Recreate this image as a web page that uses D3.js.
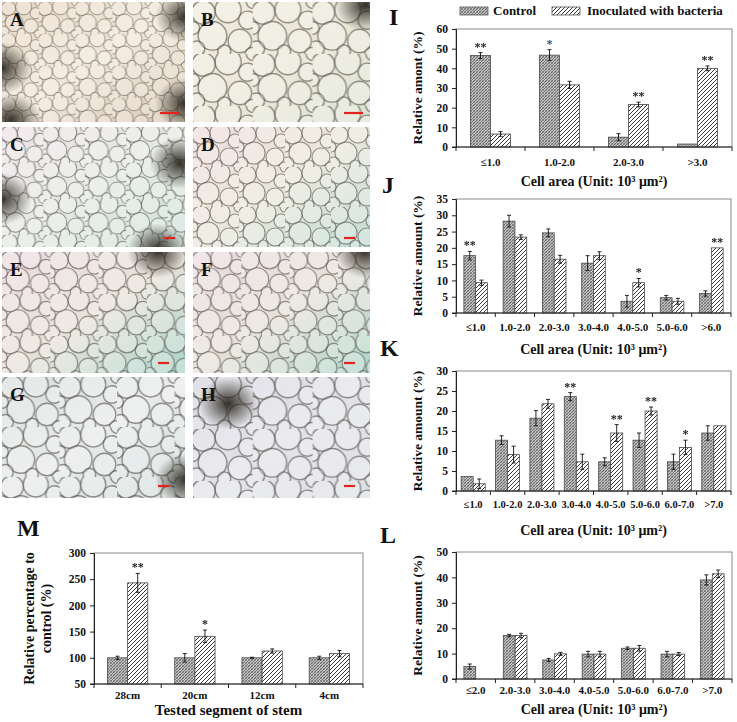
<!DOCTYPE html>
<html><head><meta charset="utf-8">
<script src="https://cdn.jsdelivr.net/npm/d3@7"></script>
<style>
html,body{margin:0;padding:0;background:#fff;}
svg{display:block;}
text{font-family:"Liberation Serif","Times New Roman",serif;font-weight:bold;fill:#111;}
.star{filter:grayscale(1);}
</style></head>
<body>
<svg id="fig" width="737" height="722"></svg>
<script>
// ---------- DATA ----------
const I_cats = ["≤1.0","1.0-2.0","2.0-3.0",">3.0"];
const I_ctrl = [46.5,46.7,5.0,1.5];
const I_ctrlErr = [1.5,2.8,1.8,0];
const I_inoc = [6.6,31.6,21.6,40.0];
const I_inocErr = [1.2,1.8,1.2,1.2];
const I_ctrlSig = ["**","*","",""];
const I_inocSig = ["","","**","**"];

const J_cats = ["≤1.0","1.0-2.0","2.0-3.0","3.0-4.0","4.0-5.0","5.0-6.0",">6.0"];
const J_ctrl = [17.6,28.2,24.6,15.3,3.6,4.7,6.0];
const J_ctrlErr = [1.3,1.8,1.2,2.3,1.8,0.7,0.8];
const J_inoc = [9.3,23.3,16.5,17.6,9.3,3.6,20.0];
const J_inocErr = [0.8,0.7,1.2,1.2,1.3,0.9,0];
const J_ctrlSig = ["**","","","","","",""];
const J_inocSig = ["","","","","*","","**"];

const K_cats = ["≤1.0","1.0-2.0","2.0-3.0","3.0-4.0","4.0-5.0","5.0-6.0","6.0-7.0",">7.0"];
const K_ctrl = [3.6,12.7,18.2,23.6,7.3,12.7,7.3,14.5];
const K_ctrlErr = [0,1.1,1.9,1.0,1.0,1.8,1.9,1.8];
const K_inoc = [1.8,9.1,21.8,7.3,14.5,20.0,10.9,16.3];
const K_inocErr = [1.2,2.1,1.1,1.9,2.1,1.0,1.8,0];
const K_ctrlSig = ["","","","**","","","",""];
const K_inocSig = ["","","","","**","**","*",""];

const L_cats = ["≤2.0","2.0-3.0","3.0-4.0","4.0-5.0","5.0-6.0","6.0-7.0",">7.0"];
const L_ctrl = [4.9,17.1,7.5,9.8,12.1,9.8,39.0];
const L_ctrlErr = [1.0,0.5,0.6,1.1,0.5,1.1,2.0];
const L_inoc = [0,17.1,9.9,9.8,12.1,9.8,41.4];
const L_inocErr = [0,0.9,0.6,1.1,1.1,0.6,1.5];

const M_cats = ["28cm","20cm","12cm","4cm"];
const M_ctrl = [100,100,100,100];
const M_ctrlErr = [3,8,1,3];
const M_inoc = [243,141,113,108];
const M_inocErr = [18,12,4,6];
const M_inocSig = ["**","*","",""];

const I_ticks = [0,10,20,30,40,50,60];
const J_ticks = [0,5,10,15,20,25,30,35];
const K_ticks = [0,5,10,15,20,25,30];
const L_ticks = [0,10,20,30,40,50];
const M_ticks = [50,100,150,200,250,300];

const seriesNames = ["Control","Inoculated with bacteria"];
const imgLetters = ["A","B","C","D","E","F","G","H"];

// ---------- DRAW ----------
const svg = d3.select("#fig");
const defs = svg.append("defs");

// bar patterns
const pc = defs.append("pattern").attr("id","pCtrl").attr("patternUnits","userSpaceOnUse")
  .attr("width",3).attr("height",3);
pc.append("rect").attr("width",3).attr("height",3).attr("fill","#c2c2c2");
pc.append("path").attr("d","M0,3L3,0M-1,1L1,-1M2,4L4,2").attr("stroke","#5a5a5a").attr("stroke-width",0.8);
pc.append("path").attr("d","M0,0L3,3M-1,2L1,4M2,-1L4,1").attr("stroke","#7a7a7a").attr("stroke-width",0.6);

const pi = defs.append("pattern").attr("id","pInoc").attr("patternUnits","userSpaceOnUse")
  .attr("width",4).attr("height",4);
pi.append("rect").attr("width",4).attr("height",4).attr("fill","#fff");
pi.append("path").attr("d","M0,4L4,0M-1,1L1,-1M3,5L5,3").attr("stroke","#3a3a3a").attr("stroke-width",1);

// micrograph-like panels (decorative)
const panels = [
  {x:2,y:2,w:183,h:120, c:["#e6d6c2","#f0e6d8","#d8c8b4"], s:0.8, dark:[[0,0.55],[1,0.12],[1,0.85],[0.05,0.98]], bar:[160,180,113]},
  {x:193,y:2,w:177,h:120, c:["#efeadc","#ebe8d8","#dce2d2"], s:1.3, dark:[[0.97,0.03]], bar:[344,363,113]},
  {x:2,y:127,w:183,h:120, c:["#ece2e6","#e4e9e2","#cde2da"], s:0.9, dark:[[0,0.6],[0.85,1.02],[0.97,0.3]], bar:[164,175,238]},
  {x:193,y:127,w:177,h:120, c:["#efdcdc","#e9e7d9","#bfdcd4"], s:1.0, dark:[], bar:[344,355,238]},
  {x:2,y:252,w:183,h:121, c:["#ebdae0","#e8e2d8","#a9d3c9"], s:1.05, dark:[[0.85,0.0]], bar:[158,169,363]},
  {x:193,y:252,w:177,h:121, c:["#ebdae0","#e6e1d8","#aed5ca"], s:1.05, dark:[[0.97,0.0]], bar:[344,355,363]},
  {x:2,y:377,w:183,h:121, c:["#d8dfdd","#e6eae9","#d2dddc"], s:1.25, dark:[[1,0.85]], bar:[158,169,486]},
  {x:193,y:377,w:177,h:121, c:["#d4d3de","#e2e3e9","#dde0e5"], s:1.3, dark:[[0.2,0.22]], bar:[344,355,486]}
];
const cellDefs = [[8,8,9],[27,6,10],[42,14,7],[15,26,11],[36,30,9],[3,36,6],[24,38,5],[45,40,5],[0,20,5],[46,0,5]];
panels.forEach((p,i)=>{
  const cellP = defs.append("pattern").attr("id","cells"+i).attr("patternUnits","userSpaceOnUse")
    .attr("width",46).attr("height",40).attr("patternTransform",`translate(${p.x},${p.y}) scale(${p.s})`);
  cellDefs.forEach(c=>{
    cellP.append("circle").attr("cx",c[0]).attr("cy",c[1]).attr("r",c[2])
      .attr("fill","rgba(255,255,255,0.28)").attr("stroke","rgba(70,62,55,0.55)").attr("stroke-width",1.1);
  });
  const g = defs.append("linearGradient").attr("id","pg"+i).attr("x1","0").attr("y1","0").attr("x2","1").attr("y2","1");
  g.append("stop").attr("offset","0").attr("stop-color",p.c[0]);
  g.append("stop").attr("offset","0.5").attr("stop-color",p.c[1]);
  g.append("stop").attr("offset","1").attr("stop-color",p.c[2]);
  const rg = defs.append("radialGradient").attr("id","dk"+i);
  rg.append("stop").attr("offset","0").attr("stop-color","#262219").attr("stop-opacity",0.92);
  rg.append("stop").attr("offset","1").attr("stop-color","#262219").attr("stop-opacity",0);
  const cp = defs.append("clipPath").attr("id","cp"+i);
  cp.append("rect").attr("x",p.x).attr("y",p.y).attr("width",p.w).attr("height",p.h);
  const pg = svg.append("g").attr("clip-path","url(#cp"+i+")");
  pg.append("rect").attr("x",p.x).attr("y",p.y).attr("width",p.w).attr("height",p.h).attr("fill","url(#pg"+i+")");
  pg.append("rect").attr("x",p.x).attr("y",p.y).attr("width",p.w).attr("height",p.h).attr("fill","url(#cells"+i+")");
  p.dark.forEach(d=>{
    pg.append("ellipse").attr("cx",p.x+d[0]*p.w).attr("cy",p.y+d[1]*p.h).attr("rx",30).attr("ry",26)
      .attr("fill","url(#dk"+i+")");
  });
  svg.append("text").attr("x",p.x+8).attr("y",p.y+24).attr("font-size",19).text(imgLetters[i]);
  svg.append("line").attr("x1",p.bar[0]).attr("x2",p.bar[1]).attr("y1",p.bar[2]).attr("y2",p.bar[2])
    .attr("stroke","#e3231c").attr("stroke-width",2.2);
});

function drawChart(o){
  const g = svg.append("g");
  const x = d3.scaleBand().domain(o.cats).range([o.left,o.right]).paddingInner(0).paddingOuter(0);
  const y = d3.scaleLinear().domain([o.ticks[0],o.ticks[o.ticks.length-1]]).range([o.bottom,o.top]);
  const bw = x.bandwidth()*o.frac;
  g.append("rect").attr("x",o.left).attr("y",o.top).attr("width",o.right-o.left).attr("height",o.bottom-o.top)
    .attr("fill","none").attr("stroke","#8a8a8a").attr("stroke-width",1);
  const series = [
    {v:o.ctrl,e:o.ctrlErr,s:o.ctrlSig,fill:"url(#pCtrl)",off:-bw},
    {v:o.inoc,e:o.inocErr,s:o.inocSig,fill:"url(#pInoc)",off:0}
  ];
  series.forEach(s=>{
    o.cats.forEach((c,i)=>{
      const v = s.v[i];
      if(!v) return;
      const cx = x(c)+x.bandwidth()/2+s.off;
      g.append("rect").attr("x",cx).attr("y",y(v)).attr("width",bw).attr("height",y(o.ticks[0])-y(v))
        .attr("fill",s.fill).attr("stroke","#4a4a4a").attr("stroke-width",0.8);
      const ex = cx+bw/2, err = s.e[i];
      if(err>0){
        g.append("line").attr("x1",ex).attr("x2",ex).attr("y1",y(v-err)).attr("y2",y(v+err)).attr("stroke","#111").attr("stroke-width",0.9);
        [v-err,v+err].forEach(t=>g.append("line").attr("x1",ex-2).attr("x2",ex+2).attr("y1",y(t)).attr("y2",y(t)).attr("stroke","#111").attr("stroke-width",0.9));
      }
      if(s.s && s.s[i]){
        const blue = s.s[i]==="*" && o.blueStar;
        g.append("text").attr("class", blue ? "" : "star").attr("x",ex).attr("y",y(v+err)-2).attr("text-anchor","middle").attr("font-size",12)
          .style("fill", blue ? "#3b5a8a" : "#222")
          .text(s.s[i]);
      }
    });
  });
  const ya = g.append("g").attr("transform",`translate(${o.left},0)`)
    .call(d3.axisLeft(y).tickValues(o.ticks).tickSize(4).tickPadding(4));
  ya.select(".domain").attr("stroke","#222");
  ya.selectAll(".tick line").attr("stroke","#222");
  ya.selectAll("text").attr("font-size",11.5).attr("font-family","Liberation Serif").attr("font-weight","bold").attr("fill","#111");
  const xa = g.append("g").attr("transform",`translate(0,${o.bottom})`);
  xa.append("line").attr("x1",o.left-4).attr("x2",o.right).attr("stroke","#222");
  const bounds = o.cats.map(c=>x(c)).concat([o.right]);
  bounds.forEach(b=>xa.append("line").attr("x1",b).attr("x2",b).attr("y1",0).attr("y2",4).attr("stroke","#222"));
  o.cats.forEach(c=>{
    xa.append("text").attr("x",x(c)+x.bandwidth()/2).attr("y",o.tickDy).attr("text-anchor","middle")
      .attr("font-size",o.tickFont||11).text(c);
  });
  const ymid = (o.top+o.bottom)/2;
  const yl = g.append("text").attr("transform",`translate(${o.ylabX},${ymid}) rotate(-90)`)
    .attr("text-anchor","middle").attr("font-size",o.ylabFont||13.5);
  o.ylab.forEach((t,k)=>yl.append("tspan").attr("x",0).attr("dy",k===0?0:17).text(t));
  g.append("text").attr("x",(o.left+o.right)/2).attr("y",o.xlabY).attr("text-anchor","middle")
    .attr("font-size",o.xlabFont||14).text(o.xlab);
  g.append("text").attr("x",o.letterX).attr("y",o.letterY).attr("font-size",24).text(o.letter);
}

const cellTitle = "Cell area (Unit: 10³ μm²)";

drawChart({cats:I_cats,ctrl:I_ctrl,ctrlErr:I_ctrlErr,inoc:I_inoc,inocErr:I_inocErr,ctrlSig:I_ctrlSig,inocSig:I_inocSig,
  ticks:I_ticks,left:456,right:732,top:29,bottom:147,frac:0.29,tickDy:19,ylab:["Relative amont (%)"],ylabX:422,
  xlab:cellTitle,xlabY:186,letter:"I",letterX:389,letterY:25,blueStar:true});
drawChart({cats:J_cats,ctrl:J_ctrl,ctrlErr:J_ctrlErr,inoc:J_inoc,inocErr:J_inocErr,ctrlSig:J_ctrlSig,inocSig:J_inocSig,
  ticks:J_ticks,left:456,right:731,top:199,bottom:313,frac:0.3,tickDy:18,ylab:["Relative amount (%)"],ylabX:422,
  xlab:cellTitle,xlabY:354,letter:"J",letterX:382,letterY:193});
drawChart({cats:K_cats,ctrl:K_ctrl,ctrlErr:K_ctrlErr,inoc:K_inoc,inocErr:K_inocErr,ctrlSig:K_ctrlSig,inocSig:K_inocSig,
  ticks:K_ticks,left:456,right:731,top:371,bottom:491,frac:0.35,tickDy:17,tickFont:10.5,ylab:["Relative amount (%)"],ylabX:422,
  xlab:cellTitle,xlabY:535,letter:"K",letterX:380,letterY:356});
drawChart({cats:L_cats,ctrl:L_ctrl,ctrlErr:L_ctrlErr,inoc:L_inoc,inocErr:L_inocErr,ctrlSig:null,inocSig:null,
  ticks:L_ticks,left:456,right:732,top:552,bottom:679,frac:0.3,tickDy:15,ylab:["Relative amount (%)"],ylabX:422,
  xlab:cellTitle,xlabY:714,letter:"L",letterX:380,letterY:543});
drawChart({cats:M_cats,ctrl:M_ctrl,ctrlErr:M_ctrlErr,inoc:M_inoc,inocErr:M_inocErr,ctrlSig:null,inocSig:M_inocSig,
  ticks:M_ticks,left:94,right:363,top:553,bottom:684,frac:0.3,tickDy:15,ylab:["Relative percentage to","control (%)"],ylabX:34,
  xlab:"Tested segment of stem",xlabY:715,letter:"M",letterX:17,letterY:536,xlabFont:15,ylabFont:14});

// legend (panel I)
const lg = svg.append("g");
[[460,"url(#pCtrl)",493],[552,"url(#pInoc)",587]].forEach((d,i)=>{
  lg.append("rect").attr("x",d[0]).attr("y",7).attr("width",28).attr("height",8).attr("fill",d[1]).attr("stroke","#555").attr("stroke-width",0.8);
  lg.append("text").attr("x",d[2]).attr("y",15).attr("font-size",13).text(seriesNames[i]);
});
</script>
</body></html>
